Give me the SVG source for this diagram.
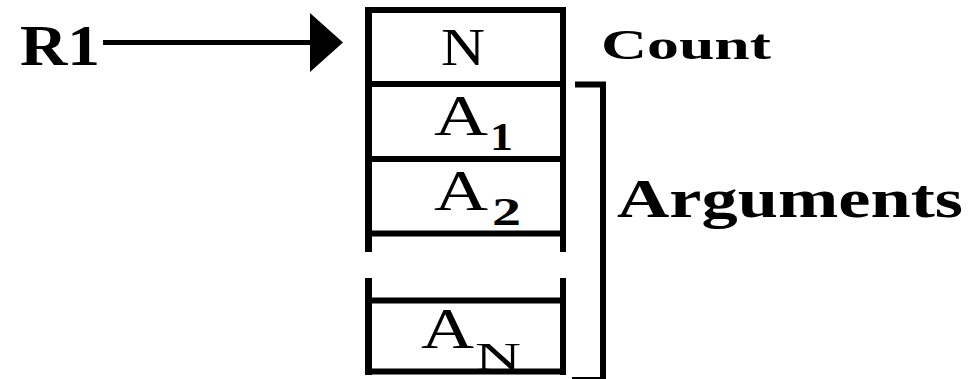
<svg xmlns="http://www.w3.org/2000/svg" width="970" height="379" viewBox="0 0 970 379">
  <style>
    text { font-family: "Liberation Serif", "DejaVu Serif", "Times New Roman", serif; fill: #000; }
    .bold { font-weight: bold; }
    .reg { font-weight: normal; }
    .frame { fill: none; stroke: #000; stroke-linecap: butt; }
  </style>
  <defs>
    <marker id="head" markerUnits="userSpaceOnUse" markerWidth="34" markerHeight="60" refX="0" refY="29.5" orient="auto">
      <polygon points="0,0 33,29.5 0,59" fill="#000"/>
    </marker>
  </defs>
  <rect width="970" height="379" fill="#fff"/>

  <!-- register label -->
  <g id="r1">
    <text class="bold" x="20" y="65" font-size="58" textLength="80" lengthAdjust="spacingAndGlyphs">R1</text>
  </g>

  <!-- pointer from R1 to the record -->
  <g id="connectors">
    <line x1="103" y1="42.5" x2="310" y2="42.5" stroke="#000" stroke-width="5" marker-end="url(#head)"/>
  </g>

  <!-- the argument record: count cell followed by argument cells -->
  <g id="record">
    <!-- upper part of the frame -->
    <path class="frame" stroke-width="7" d="M368.5,252 V7"/>
    <path class="frame" stroke-width="6" d="M563,252 V7"/>
    <path class="frame" stroke-width="6" d="M365,10 H566 M365,84 H566 M365,159 H566 M365,233.5 H566"/>
    <!-- lower part of the frame after the gap -->
    <path class="frame" stroke-width="7" d="M368.5,278 V375"/>
    <path class="frame" stroke-width="6" d="M563,278 V375"/>
    <path class="frame" stroke-width="6" d="M365,300.5 H566 M365,371.5 H566"/>
  </g>

  <g id="cell-n">
    <text class="reg" x="441" y="65" font-size="52" textLength="44" lengthAdjust="spacingAndGlyphs">N</text>
  </g>
  <g id="cell-a1">
    <text class="reg" x="434" y="135" font-size="58" textLength="54" lengthAdjust="spacingAndGlyphs">A</text>
    <text class="bold" x="490" y="150" font-size="41" textLength="23" lengthAdjust="spacingAndGlyphs">1</text>
  </g>
  <g id="cell-a2">
    <text class="reg" x="434" y="210" font-size="58" textLength="54" lengthAdjust="spacingAndGlyphs">A</text>
    <text class="bold" x="492" y="225" font-size="39" textLength="29" lengthAdjust="spacingAndGlyphs">2</text>
  </g>
  <g id="cell-an">
    <text class="reg" x="421" y="348" font-size="56" textLength="53" lengthAdjust="spacingAndGlyphs">A</text>
    <text class="reg" x="475" y="370" font-size="41" textLength="46" lengthAdjust="spacingAndGlyphs">N</text>
  </g>

  <g id="count">
    <text class="bold" x="601" y="59" font-size="43" textLength="170" lengthAdjust="spacingAndGlyphs">Count</text>
  </g>

  <!-- bracket grouping the argument cells -->
  <g id="arguments">
    <path class="frame" stroke-width="6" d="M575,84.5 H603 V380 H572"/>
    <text class="bold" x="617" y="217" font-size="55" textLength="346" lengthAdjust="spacingAndGlyphs">Arguments</text>
  </g>
</svg>
